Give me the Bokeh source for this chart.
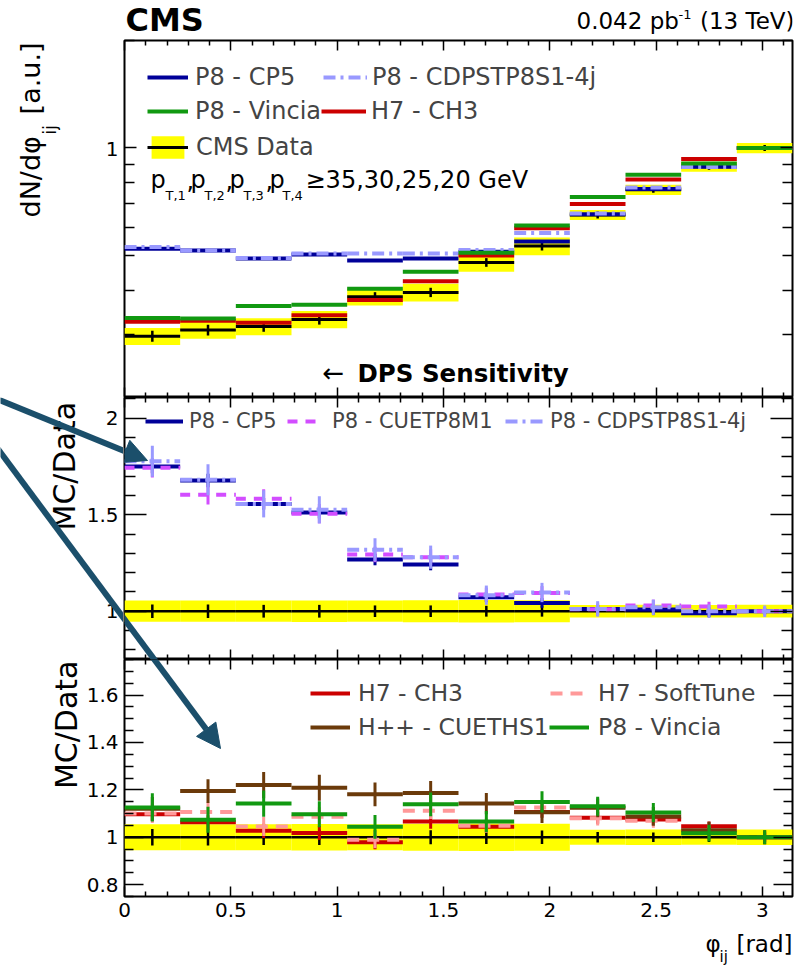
import numpy as np
from bokeh.plotting import figure
from bokeh.models import (Range1d, FixedTicker, LinearAxis, LogAxis, Label, Legend,
                          LegendItem, Arrow, NormalHead, CustomJSTickFormatter, Title)
from bokeh.layouts import column, row
from bokeh.embed import file_html
from bokeh.resources import INLINE

# ---------------- data ----------------
phi_edges = [0.0, 0.2618, 0.5236, 0.7854, 1.0472, 1.3090, 1.5708,
             1.8326, 2.0944, 2.3562, 2.6180, 2.8798, 3.1416]

data_norm = [0.297, 0.309, 0.316, 0.331, 0.383, 0.394, 0.478, 0.531, 0.649, 0.764, 0.886, 1.000]
data_sys_rel = [0.055, 0.055, 0.055, 0.056, 0.055, 0.057, 0.058, 0.057, 0.032, 0.033, 0.032, 0.033]
data_stat_rel = [0.035, 0.035, 0.033, 0.033, 0.030, 0.030, 0.028, 0.028, 0.022, 0.020, 0.020, 0.020]

top_cp5 = [0.522, 0.516, 0.490, 0.503, 0.484, 0.490, 0.512, 0.547, 0.652, 0.768, 0.886, 1.000]
top_cdps = [0.528, 0.516, 0.492, 0.506, 0.506, 0.506, 0.518, 0.578, 0.655, 0.775, 0.884, 1.000]
top_vincia = [0.334, 0.333, 0.361, 0.364, 0.403, 0.450, 0.509, 0.606, 0.729, 0.842, 0.905, 1.000]
top_ch3 = [0.326, 0.328, 0.324, 0.340, 0.375, 0.423, 0.500, 0.596, 0.697, 0.816, 0.931, 1.000]

ratio_cp5 = [1.750, 1.677, 1.556, 1.511, 1.268, 1.242, 1.073, 1.043, 1.012, 1.009, 0.990, 1.000]
ratio_cp5_err = [0.035, 0.035, 0.030, 0.030, 0.030, 0.030, 0.025, 0.025, 0.020, 0.020, 0.020, 0.015]
ratio_cuetp8m1 = [1.743, 1.603, 1.582, 1.505, 1.294, 1.280, 1.087, 1.095, 1.010, 1.030, 1.024, 1.000]
ratio_cuetp8m1_err = [0.050, 0.050, 0.050, 0.050, 0.040, 0.040, 0.035, 0.035, 0.030, 0.030, 0.025, 0.020]
ratio_cdps = [1.777, 1.681, 1.556, 1.525, 1.318, 1.280, 1.083, 1.097, 1.012, 1.020, 1.000, 1.000]
ratio_cdps_err = [0.080, 0.080, 0.070, 0.070, 0.060, 0.060, 0.050, 0.050, 0.040, 0.040, 0.035, 0.030]

ratio_ch3 = [1.097, 1.063, 1.027, 1.018, 0.979, 1.066, 1.044, 1.107, 1.082, 1.075, 1.046, 1.000]
ratio_ch3_err = [0.030, 0.030, 0.030, 0.030, 0.030, 0.030, 0.025, 0.025, 0.025, 0.025, 0.020, 0.020]
ratio_softtune = [1.100, 1.107, 1.045, 1.087, 0.989, 1.112, 1.049, 1.126, 1.080, 1.070, 1.030, 1.000]
ratio_softtune_err = [0.040, 0.040, 0.040, 0.040, 0.035, 0.035, 0.030, 0.030, 0.030, 0.030, 0.025, 0.020]
ratio_cueths1 = [1.120, 1.195, 1.220, 1.209, 1.181, 1.187, 1.142, 1.105, 1.124, 1.088, 1.030, 1.000]
ratio_cueths1_err = [0.050, 0.050, 0.055, 0.055, 0.050, 0.050, 0.045, 0.045, 0.040, 0.040, 0.035, 0.030]
ratio_vincia = [1.126, 1.074, 1.142, 1.097, 1.044, 1.139, 1.066, 1.149, 1.131, 1.104, 1.017, 1.000]
ratio_vincia_err = [0.060, 0.055, 0.055, 0.055, 0.050, 0.050, 0.045, 0.045, 0.040, 0.040, 0.035, 0.030]

x_major = [0, 0.5, 1, 1.5, 2, 2.5, 3]
x_minor = [0.1, 0.2, 0.3, 0.4, 0.6, 0.7, 0.8, 0.9, 1.1, 1.2, 1.3, 1.4, 1.6, 1.7, 1.8, 1.9,
           2.1, 2.2, 2.3, 2.4, 2.6, 2.7, 2.8, 2.9, 3.1]
top_y_major = [1]
top_y_minor = [0.2, 0.3, 0.4, 0.5, 0.6, 0.7, 0.8, 0.9, 2.0]
mid_y_major = [1, 1.5, 2]
mid_y_minor = [0.8, 0.9, 1.1, 1.2, 1.3, 1.4, 1.6, 1.7, 1.8, 1.9, 2.1]
bot_y_major = [0.8, 1, 1.2, 1.4, 1.6]
bot_y_minor = [0.75, 0.85, 0.9, 0.95, 1.05, 1.1, 1.15, 1.25, 1.3, 1.35, 1.45, 1.5,
               1.55, 1.65, 1.7, 1.75]

# ---------------- layout constants (global canvas pixels) ----------------
FONT = "DejaVu Sans"
W = 800
FL, FR = 124, 8                 # frame left / right border
FW = W - FL - FR                # frame width 668
STRIP_W = FL - 1                # left strip width (1px border kept in panel)
HEAD_H = 39
TOP_FT, TOP_FH = 40, 357
MID_G0, MID_FH = 397, 262
BOT_G0, BOT_FH, BOT_BB = 659, 237, 34
FOOT_G0 = BOT_G0 + BOT_FH + BOT_BB
FOOT_H = 970 - FOOT_G0
MID_SHIFT = 0.346               # em distance from baseline to text-box middle

TOP_YR = (0.2, 2.0)
MID_YR = (0.75, 2.107)
BOT_YR = (0.75, 1.75)

NAVY = "#000099"
LBLUE = "#9999FF"
MAGENTA = "#D24DFF"
GREEN = "#119911"
RED = "#CC0000"
PINK = "#FF9999"
BROWN = "#6B3A0A"
YELLOW = "#FFFF00"
TEAL = "#1B4F6B"

lo = phi_edges[:-1]
hi = phi_edges[1:]
ctr = [0.5 * (a + b) for a, b in zip(lo, hi)]

ORIGIN = {}


def blank_fig(width, height, x_range, y_range, log=False, origin=(0, 0)):
    p = figure(width=width, height=height, x_range=Range1d(*x_range),
               y_range=Range1d(*y_range), y_axis_type="log" if log else "linear",
               x_axis_location=None, y_axis_location=None,
               output_backend="svg", toolbar_location=None, min_border=0)
    p.outline_line_color = None
    p.xgrid.visible = False
    p.ygrid.visible = False
    p.background_fill_color = "white"
    p.border_fill_color = "white"
    ORIGIN[id(p)] = origin
    return p


def panel_fig(width, height, y_range, log, borders, origin):
    bl, br, bt, bb = borders
    p = figure(width=width, height=height, x_range=Range1d(0, np.pi),
               y_range=Range1d(*y_range), y_axis_type="log" if log else "linear",
               output_backend="svg", toolbar_location=None,
               min_border_left=bl, min_border_right=br,
               min_border_top=bt, min_border_bottom=bb)
    p.outline_line_color = "black"
    p.outline_line_width = 2
    p.xgrid.visible = False
    p.ygrid.visible = False
    p.background_fill_color = "white"
    p.border_fill_color = "white"
    p.add_layout(LinearAxis(), "above")
    p.add_layout(LogAxis() if log else LinearAxis(), "right")
    ORIGIN[id(p)] = origin
    return p


def style(ax, ticks, minor, maj_len, min_len, show_labels, fs=20, standoff=6):
    ax.ticker = FixedTicker(ticks=ticks, minor_ticks=minor)
    ax.major_tick_in = maj_len
    ax.major_tick_out = 0
    ax.minor_tick_in = min_len
    ax.minor_tick_out = 0
    ax.major_tick_line_color = "black"
    ax.minor_tick_line_color = "black"
    ax.major_tick_line_width = 1.5
    ax.minor_tick_line_width = 1.5
    ax.axis_line_color = None
    ax.axis_label = None
    if show_labels:
        ax.formatter = CustomJSTickFormatter(code="return String(tick)")
        ax.major_label_text_font = FONT
        ax.major_label_text_font_size = f"{fs}px"
        ax.major_label_text_color = "black"
        ax.major_label_standoff = standoff
    else:
        ax.formatter = CustomJSTickFormatter(code="return ''")
        ax.major_label_text_font_size = "1px"
        ax.major_label_text_color = None
        ax.major_label_standoff = 0


def style_axes(p, yt, ym, ylen, ymin_len, x_labels=False, y_labels=False):
    style(p.below[0], x_major, x_minor, 10, 5, x_labels, 20, 6)
    style(p.above[0], x_major, x_minor, 10, 5, False)
    style(p.left[0], yt, ym, ylen, ymin_len, y_labels, 20, 6)
    style(p.right[0], yt, ym, ylen, ymin_len, False)


def text(p, X, Y, s, size, bold=False, align="left", vertical=False):
    """(X, Y): global pixel position of the text's baseline start/end."""
    ox, oy = ORIGIN[id(p)]
    shift = MID_SHIFT * size
    if vertical:
        x, y, angle = X - shift - ox, Y - oy, np.pi / 2
    else:
        x, y, angle = X - ox, Y - shift - oy, 0.0
    p.add_layout(Label(x=x, y=y, x_units="canvas", y_units="canvas", text=s,
                       text_font=FONT, text_font_size=f"{size}px",
                       text_font_style="bold" if bold else "normal",
                       text_align=align, text_baseline="middle",
                       angle=angle, text_color="black"))


def tick_labels(strip, ticks, X=118, size=20):
    ox, _ = ORIGIN[id(strip)]
    for t in ticks:
        strip.add_layout(Label(x=X - ox, y=t, x_units="canvas", y_units="data",
                               text=f"{t:g}", text_font=FONT, text_font_size=f"{size}px",
                               text_align="right", text_baseline="middle",
                               text_color="black"))


def legend(p, renderers, label, gx, cy, frame_bottom, fs, gw=40, ih=30, standoff=8):
    leg = Legend(items=[LegendItem(label=label, renderers=renderers)],
                 location=(gx - FL, frame_bottom - cy - ih / 2),
                 orientation="horizontal", glyph_width=gw, glyph_height=ih,
                 label_height=ih, label_standoff=standoff,
                 label_text_font=FONT, label_text_font_size=f"{fs}px",
                 label_text_baseline="middle", padding=0, margin=0, spacing=0,
                 border_line_color=None, background_fill_alpha=0)
    p.add_layout(leg)


def hist(p, vals, color, width=4, dash="solid"):
    return p.segment(x0=lo, x1=hi, y0=vals, y1=vals, line_color=color,
                     line_width=width, line_dash=dash)


def errs(p, vals, err, color, width=3):
    return p.segment(x0=ctr, x1=ctr, y0=[v - e for v, e in zip(vals, err)],
                     y1=[v + e for v, e in zip(vals, err)], line_color=color,
                     line_width=width)


# ================= header (CMS / luminosity) =================
header = blank_fig(W, HEAD_H, (0, W), (0, HEAD_H), origin=(0, 0))
text(header, 125, 31, "CMS", 32, bold=True)
text(header, 576, 28, "0.042 pb", 23)
text(header, 678, 18, "-1", 13)
text(header, 794, 28, "(13 TeV)", 23, align="right")

# ================= top panel =================
p1 = panel_fig(W - STRIP_W, TOP_FT + TOP_FH - HEAD_H, TOP_YR, True, (1, FR, 1, 0),
               origin=(STRIP_W, HEAD_H))
style_axes(p1, top_y_major, top_y_minor, 12, 10)

band1 = p1.quad(left=lo, right=hi,
                bottom=[d * (1 - s) for d, s in zip(data_norm, data_sys_rel)],
                top=[d * (1 + s) for d, s in zip(data_norm, data_sys_rel)],
                fill_color=YELLOW, line_color=None)
data1 = hist(p1, data_norm, "black", 3)
p1.segment(x0=ctr, x1=ctr, y0=[d * (1 - s) for d, s in zip(data_norm, data_stat_rel)],
           y1=[d * (1 + s) for d, s in zip(data_norm, data_stat_rel)],
           line_color="black", line_width=2.5)
r_cp5 = hist(p1, top_cp5, NAVY, 4)
r_cdps = hist(p1, top_cdps, LBLUE, 4, "12 5 3 5")
r_ch3 = hist(p1, top_ch3, RED, 4)
r_vin = hist(p1, top_vincia, GREEN, 4)

fb1 = TOP_FT + TOP_FH
legend(p1, [r_cp5], "P8 - CP5", 147, 77, fb1, 24, gw=41, standoff=7)
legend(p1, [r_cdps], "P8 - CDPSTP8S1-4j", 323, 77, fb1, 24, gw=44, standoff=5)
legend(p1, [r_vin], "P8 - Vincia", 147, 111, fb1, 24, gw=41, standoff=7)
legend(p1, [r_ch3], "H7 - CH3", 321, 111, fb1, 24, gw=45, standoff=5)
legend(p1, [band1, data1], "CMS Data", 147, 147, fb1, 24, gw=41, ih=28, standoff=8)

pt_main_y, pt_sub_y = 188, 199
for xm, sub, xs in [(150, "T,1", 165), (190, "T,2", 204), (229, "T,3", 243), (269, "T,4", 282)]:
    text(p1, xm, pt_main_y, "p", 24)
    text(p1, xs, pt_sub_y, sub, 13)
for xc in [186, 225, 265]:
    text(p1, xc, pt_main_y, ",", 24)
text(p1, 305, pt_main_y, "\u226535,30,25,20 GeV", 24)
text(p1, 322, 381, "\u2190", 26)
text(p1, 357, 381, "DPS Sensitivity", 24.5, bold=True)

# left strip of the top panel: y title + tick label
s1_top = TOP_YR[1] * 10 ** (np.log10(TOP_YR[1] / TOP_YR[0]) / TOP_FH)  # 1px above frame
strip1 = blank_fig(STRIP_W, TOP_FT + TOP_FH - HEAD_H, (0, STRIP_W), (TOP_YR[0], s1_top),
                   log=True, origin=(0, HEAD_H))
tick_labels(strip1, top_y_major)
text(strip1, 39, 217, "dN/d\u03c6", 27, vertical=True)
text(strip1, 55, 134, "ij", 17, vertical=True)
text(strip1, 39, 42, "[a.u.]", 27, align="right", vertical=True)

# ================= middle panel =================
p2 = panel_fig(W - STRIP_W, MID_FH, MID_YR, False, (1, FR, 0, 0), origin=(STRIP_W, MID_G0))
style_axes(p2, mid_y_major, mid_y_minor, 22, 11)

ones = [1.0] * len(data_norm)
p2.quad(left=lo, right=hi, bottom=[1 - s for s in data_sys_rel],
        top=[1 + s for s in data_sys_rel], fill_color=YELLOW, line_color=None)
hist(p2, ones, "black", 2.5)
errs(p2, ones, data_stat_rel, "black", 2.5)

m_cp5 = hist(p2, ratio_cp5, NAVY, 4)
errs(p2, ratio_cp5, ratio_cp5_err, NAVY, 3)
m_cuet = hist(p2, ratio_cuetp8m1, MAGENTA, 4, "10 8")
errs(p2, ratio_cuetp8m1, ratio_cuetp8m1_err, MAGENTA, 3)
m_cdps = hist(p2, ratio_cdps, LBLUE, 4, "12 5 3 5")
errs(p2, ratio_cdps, ratio_cdps_err, LBLUE, 3)

fb2 = MID_G0 + MID_FH
legend(p2, [m_cp5], "P8 - CP5", 145, 421, fb2, 21, gw=38, standoff=6)
legend(p2, [m_cuet], "P8 - CUETP8M1", 287, 421, fb2, 21, gw=36, standoff=9)
legend(p2, [m_cdps], "P8 - CDPSTP8S1-4j", 505, 421, fb2, 21, gw=38, standoff=7)

strip2 = blank_fig(STRIP_W, MID_FH, (0, STRIP_W), MID_YR, origin=(0, MID_G0))
tick_labels(strip2, mid_y_major)
text(strip2, 74, 530, "MC/Data", 30, vertical=True)

# ================= bottom panel =================
p3 = panel_fig(W, BOT_FH + BOT_BB, BOT_YR, False, (FL, FR, 0, BOT_BB), origin=(0, BOT_G0))
style_axes(p3, bot_y_major, bot_y_minor, 19, 9, x_labels=True, y_labels=True)
p3.add_layout(Title(text="MC/Data", align="right", vertical_align="bottom",
                    text_font=FONT, text_font_size="30px", text_font_style="normal",
                    text_color="black", standoff=0, offset=1), "left")

p3.quad(left=lo, right=hi, bottom=[1 - s for s in data_sys_rel],
        top=[1 + s for s in data_sys_rel], fill_color=YELLOW, line_color=None)
hist(p3, ones, "black", 2.5)
errs(p3, ones, data_stat_rel, "black", 2.5)

b_ch3 = hist(p3, ratio_ch3, RED, 4)
errs(p3, ratio_ch3, ratio_ch3_err, RED, 3)
b_soft = hist(p3, ratio_softtune, PINK, 4, "12 8")
errs(p3, ratio_softtune, ratio_softtune_err, PINK, 3)
b_hpp = hist(p3, ratio_cueths1, BROWN, 4)
errs(p3, ratio_cueths1, ratio_cueths1_err, BROWN, 3)
b_vin = hist(p3, ratio_vincia, GREEN, 4)
errs(p3, ratio_vincia, ratio_vincia_err, GREEN, 3)

fb3 = BOT_G0 + BOT_FH
legend(p3, [b_ch3], "H7 - CH3", 310, 693, fb3, 23.5, gw=40, standoff=8)
legend(p3, [b_soft], "H7 - SoftTune", 550, 693, fb3, 23.5, gw=40, standoff=8)
legend(p3, [b_hpp], "H++ - CUETHS1", 310, 727, fb3, 23.5, gw=40, standoff=8)
legend(p3, [b_vin], "P8 - Vincia", 549, 727, fb3, 23.5, gw=40, standoff=9)

# ================= footer (x title) =================
footer = blank_fig(W, FOOT_H, (0, W), (0, FOOT_H), origin=(0, FOOT_G0))
text(footer, 705, 951, "\u03c6", 23)
text(footer, 719, 962, "ij", 15)
text(footer, 792, 951, "[rad]", 23, align="right")


# ================= annotation arrows (pieces per canvas) =================
def px2phi(X):
    return (X - FL) / FW * np.pi


def mid_y(Y):
    return MID_YR[1] - (Y - MID_G0) / MID_FH * (MID_YR[1] - MID_YR[0])


def bot_y(Y):
    return BOT_YR[1] - (Y - BOT_G0) / BOT_FH * (BOT_YR[1] - BOT_YR[0])


def arrow_head():
    return NormalHead(size=24, fill_color=TEAL, line_color=TEAL)


a1_start, a1_tip = (-30, 387.8), (147, 460)
a2_start, a2_tip = (-20, 425.1), (220, 748)

for (xs, ys), (xt, yt) in [(a1_start, a1_tip), (a2_start, a2_tip)]:
    strip2.add_layout(Arrow(end=None, x_start=xs, y_start=mid_y(ys), x_end=xt,
                            y_end=mid_y(yt), line_color=TEAL, line_width=6))
p2.add_layout(Arrow(end=arrow_head(), x_start=px2phi(a1_start[0]), y_start=mid_y(a1_start[1]),
                    x_end=px2phi(a1_tip[0]), y_end=mid_y(a1_tip[1]),
                    line_color=TEAL, line_width=6))
p2.add_layout(Arrow(end=None, x_start=px2phi(a2_start[0]), y_start=mid_y(a2_start[1]),
                    x_end=px2phi(a2_tip[0]), y_end=mid_y(a2_tip[1]),
                    line_color=TEAL, line_width=6))
p3.add_layout(Arrow(end=arrow_head(), x_start=px2phi(a2_start[0]), y_start=bot_y(a2_start[1]),
                    x_end=px2phi(a2_tip[0]), y_end=bot_y(a2_tip[1]),
                    line_color=TEAL, line_width=6))

layout = column(header, row(strip1, p1, spacing=0), row(strip2, p2, spacing=0), p3, footer,
                spacing=0)
open("out.html", "w").write(file_html(layout, INLINE))
